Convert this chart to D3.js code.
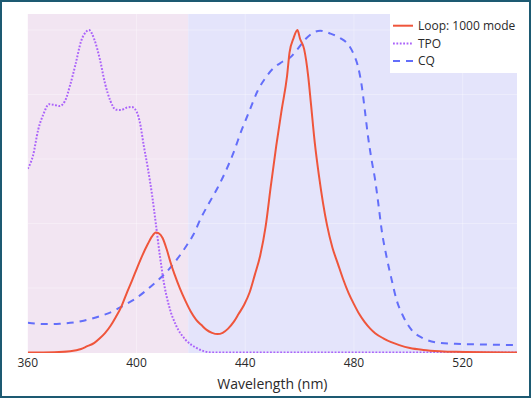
<!DOCTYPE html>
<html>
<head>
<meta charset="utf-8">
<script src="https://cdn.jsdelivr.net/npm/d3@7"></script>
<style>
  body { margin: 0; background: #fff; }
  svg  { display: block; font-family: "Open Sans", sans-serif; }
</style>
</head>
<body>
<svg id="chart" width="531" height="398"></svg>
<script>
// data (normalised intensity vs wavelength)
const loopNm  = [360, 369.7, 375.6, 379.6, 381.5, 384.5, 386.5, 388.4, 390.4, 392.4, 394.3, 396.3, 398.3, 400.2, 402.2, 404.2, 405.7, 407.1, 408.1, 409.6, 411.1, 412.5, 414.0, 416.0, 418.0, 419.9, 421.9, 423.9, 425.8, 427.8, 429.8, 431.7, 433.7, 435.7, 437.6, 439.6, 441.6, 443.5, 445.5, 447.5, 449.4, 451.4, 453.4, 455.4, 456.3, 457.8, 459.2, 460.2, 461.7, 463.2, 464.2, 465.6, 467.1, 468.6, 470.1, 472.1, 474.1, 476.0, 478.0, 480.0, 481.9, 483.9, 485.9, 487.8, 490.8, 493.7, 496.7, 500.6, 505.5, 511.5, 517.4, 540];
const loopVal = [0, 0.001, 0.004, 0.011, 0.018, 0.03, 0.044, 0.06, 0.082, 0.11, 0.14, 0.182, 0.222, 0.262, 0.302, 0.337, 0.36, 0.372, 0.37, 0.355, 0.32, 0.28, 0.242, 0.198, 0.16, 0.128, 0.102, 0.085, 0.07, 0.061, 0.057, 0.061, 0.074, 0.094, 0.12, 0.148, 0.186, 0.24, 0.30, 0.39, 0.515, 0.64, 0.752, 0.858, 0.93, 0.975, 1.0, 0.972, 0.94, 0.855, 0.77, 0.65, 0.55, 0.465, 0.395, 0.325, 0.275, 0.228, 0.185, 0.15, 0.12, 0.095, 0.075, 0.06, 0.044, 0.032, 0.023, 0.014, 0.008, 0.004, 0.002, 0];

const tpoNm  = [360, 361.9, 363.8, 365.8, 367.8, 369.7, 371.7, 373.7, 375.6, 377.6, 379.6, 381.5, 382.5, 384.5, 386.5, 388.4, 390.4, 392.4, 394.3, 396.3, 398.3, 400.2, 401.2, 402.7, 404.2, 405.7, 407.1, 408.6, 410.1, 412.1, 414.5, 418.0, 421.9, 427.8, 540];
const tpoVal = [0.57, 0.61, 0.69, 0.74, 0.77, 0.768, 0.764, 0.78, 0.83, 0.895, 0.965, 0.995, 1.0, 0.97, 0.91, 0.835, 0.78, 0.753, 0.752, 0.759, 0.761, 0.744, 0.715, 0.64, 0.57, 0.49, 0.40, 0.30, 0.215, 0.14, 0.085, 0.04, 0.015, 0, 0];

const cqNm  = [360, 363.8, 367.8, 371.7, 375.6, 379.6, 383.5, 387.4, 391.4, 395.3, 399.3, 403.2, 407.1, 411.1, 415.0, 417.9, 420.9, 423.9, 426.8, 429.8, 432.7, 435.7, 438.6, 441.6, 444.5, 447.5, 450.4, 453.4, 456.3, 459.2, 462.2, 465.1, 467.6, 471.0, 475.0, 477.9, 479.9, 481.4, 482.9, 484.0, 485.2, 486.5, 487.8, 489.0, 490.2, 492.0, 493.9, 495.7, 498.2, 501.2, 505.5, 511.5, 517.4, 527.2, 540];
const cqVal = [0.092, 0.089, 0.088, 0.089, 0.092, 0.097, 0.105, 0.115, 0.128, 0.146, 0.165, 0.19, 0.218, 0.25, 0.29, 0.325, 0.365, 0.42, 0.465, 0.51, 0.56, 0.62, 0.688, 0.75, 0.81, 0.852, 0.882, 0.9, 0.913, 0.94, 0.972, 0.992, 0.998, 0.99, 0.975, 0.955, 0.925, 0.89, 0.825, 0.752, 0.669, 0.597, 0.535, 0.46, 0.38, 0.297, 0.225, 0.163, 0.111, 0.07, 0.044, 0.03, 0.027, 0.025, 0.023];

const seriesNames = ["Loop: 1000 mode", "TPO", "CQ"];
const xTicks      = [360, 400, 440, 480, 520];
const yGrid       = [0.2, 0.4, 0.6, 0.8, 1.0];
const bandEdges   = [360, 419, 540];   // violet band | blue band

const svg = d3.select("#chart");
const W = 531, H = 398;
const plot = { left: 27.8, right: 517, top: 14, bottom: 353 };

const x = d3.scaleLinear().domain([360, 540]).range([plot.left, plot.right]);
const y = d3.scaleLinear().domain([0, 1]).range([352.5, 30]);

svg.append("rect").attr("width", W).attr("height", H).attr("fill", "#fff");

svg.append("defs").append("clipPath").attr("id", "clip")
  .append("rect")
    .attr("x", plot.left).attr("y", plot.top)
    .attr("width", plot.right - plot.left).attr("height", plot.bottom - plot.top);

// background bands
const bandColors = ["#f2e5f2", "#e4e4fb"];
svg.selectAll("rect.band")
  .data(d3.pairs(bandEdges)).enter().append("rect")
    .attr("class", "band")
    .attr("x", d => x(d[0]))
    .attr("y", plot.top)
    .attr("width", d => x(d[1]) - x(d[0]))
    .attr("height", plot.bottom - plot.top)
    .attr("fill", (d, i) => bandColors[i]);

// faint grid
const grid = svg.append("g").attr("stroke", "#fff").attr("stroke-opacity", 0.3).attr("stroke-width", 1);
grid.selectAll("line.v").data(xTicks.slice(1)).enter().append("line")
  .attr("x1", d => x(d)).attr("x2", d => x(d))
  .attr("y1", plot.top).attr("y2", plot.bottom);
grid.selectAll("line.h").data(yGrid).enter().append("line")
  .attr("x1", plot.left).attr("x2", plot.right)
  .attr("y1", d => y(d)).attr("y2", d => y(d));

// lines
const line = d3.line()
  .x(d => x(d[0])).y(d => y(d[1]))
  .curve(d3.curveMonotoneX);

const series = [
  { name: seriesNames[0], pts: d3.zip(loopNm, loopVal), color: "#ef553b", dash: null },
  { name: seriesNames[1], pts: d3.zip(tpoNm,  tpoVal),  color: "#ab63fa", dash: "1.8,1.6" },
  { name: seriesNames[2], pts: d3.zip(cqNm,   cqVal),   color: "#636efa", dash: "7,6" }
];

const lines = svg.append("g").attr("clip-path", "url(#clip)");
// draw CQ, TPO under the red trace
[2, 1, 0].forEach(i => {
  const s = series[i];
  lines.append("path")
    .attr("d", line(s.pts))
    .attr("fill", "none")
    .attr("stroke", s.color)
    .attr("stroke-width", 2)
    .attr("stroke-dasharray", s.dash);
});

// x axis labels
svg.selectAll("text.tick")
  .data(xTicks).enter().append("text")
    .attr("x", d => x(d))
    .attr("y", 366.5)
    .attr("text-anchor", "middle")
    .attr("font-size", 12)
    .attr("fill", "#2a2a2a")
    .text(d => d);

svg.append("text")
  .attr("x", (plot.left + plot.right) / 2)
  .attr("y", 388.5)
  .attr("text-anchor", "middle")
  .attr("font-size", 14)
  .attr("fill", "#2a2a2a")
  .text("Wavelength (nm)");

// legend
const legend = svg.append("g");
legend.append("rect")
  .attr("x", 390).attr("y", plot.top)
  .attr("width", plot.right - 390).attr("height", 59)
  .attr("fill", "#fff");

series.forEach((s, i) => {
  const yy = 25.7 + i * 17.7;
  legend.append("line")
    .attr("x1", 393).attr("x2", 413)
    .attr("y1", yy).attr("y2", yy)
    .attr("stroke", s.color).attr("stroke-width", 2)
    .attr("stroke-dasharray", s.dash);
  legend.append("text")
    .attr("x", 418).attr("y", yy + 4.3)
    .attr("font-size", 12)
    .attr("fill", "#2a2a2a")
    .text(s.name);
});

// outer frame
svg.append("rect")
  .attr("x", 1).attr("y", 1)
  .attr("width", W - 2).attr("height", H - 2)
  .attr("fill", "none")
  .attr("stroke", "#1d5a72")
  .attr("stroke-width", 2);
</script>
</body>
</html>
